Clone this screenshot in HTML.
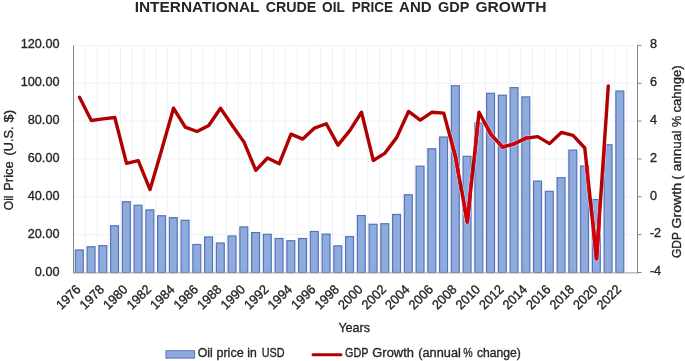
<!DOCTYPE html>
<html lang="en"><head><meta charset="utf-8"><title>International Crude Oil Price and GDP Growth</title>
<style>html,body{margin:0;padding:0;background:#fff;}body{width:685px;height:361px;overflow:hidden;}svg{display:block;filter:blur(0.45px);}text{font-family:"Liberation Sans",sans-serif;fill:#262626;stroke:#262626;stroke-width:0.35px;}</style></head><body>
<svg width="685" height="361" viewBox="0 0 685 361">
<rect x="0" y="0" width="685" height="361" fill="#ffffff"/>
<path d="M85.22 45.40V272.50M96.99 45.40V272.50M108.76 45.40V272.50M120.53 45.40V272.50M132.30 45.40V272.50M144.07 45.40V272.50M155.84 45.40V272.50M167.61 45.40V272.50M179.38 45.40V272.50M191.15 45.40V272.50M202.92 45.40V272.50M214.69 45.40V272.50M226.46 45.40V272.50M238.23 45.40V272.50M250.00 45.40V272.50M261.77 45.40V272.50M273.54 45.40V272.50M285.31 45.40V272.50M297.08 45.40V272.50M308.85 45.40V272.50M320.62 45.40V272.50M332.39 45.40V272.50M344.16 45.40V272.50M355.93 45.40V272.50M367.70 45.40V272.50M379.47 45.40V272.50M391.24 45.40V272.50M403.01 45.40V272.50M414.78 45.40V272.50M426.55 45.40V272.50M438.32 45.40V272.50M450.09 45.40V272.50M461.86 45.40V272.50M473.63 45.40V272.50M485.40 45.40V272.50M497.17 45.40V272.50M508.94 45.40V272.50M520.71 45.40V272.50M532.48 45.40V272.50M544.25 45.40V272.50M556.02 45.40V272.50M567.79 45.40V272.50M579.56 45.40V272.50M591.33 45.40V272.50M603.10 45.40V272.50M614.87 45.40V272.50M626.64 45.40V272.50M73.50 45.40H635.00M73.50 83.25H635.00M73.50 121.10H635.00M73.50 158.95H635.00M73.50 196.80H635.00M73.50 234.65H635.00M73.50 272.50H635.00" stroke="#eff1f9" stroke-width="1" fill="none"/>
<rect x="75.38" y="250.01" width="7.90" height="22.49" fill="#8faadc" stroke="#5574b8" stroke-width="1.2"/>
<rect x="87.12" y="246.79" width="7.90" height="25.71" fill="#8faadc" stroke="#5574b8" stroke-width="1.2"/>
<rect x="98.88" y="245.66" width="7.90" height="26.84" fill="#8faadc" stroke="#5574b8" stroke-width="1.2"/>
<rect x="110.62" y="225.79" width="7.90" height="46.71" fill="#8faadc" stroke="#5574b8" stroke-width="1.2"/>
<rect x="122.38" y="201.75" width="7.90" height="70.75" fill="#8faadc" stroke="#5574b8" stroke-width="1.2"/>
<rect x="134.12" y="205.25" width="7.90" height="67.25" fill="#8faadc" stroke="#5574b8" stroke-width="1.2"/>
<rect x="145.87" y="209.89" width="7.90" height="62.61" fill="#8faadc" stroke="#5574b8" stroke-width="1.2"/>
<rect x="157.62" y="215.76" width="7.90" height="56.74" fill="#8faadc" stroke="#5574b8" stroke-width="1.2"/>
<rect x="169.37" y="217.65" width="7.90" height="54.85" fill="#8faadc" stroke="#5574b8" stroke-width="1.2"/>
<rect x="181.12" y="220.30" width="7.90" height="52.20" fill="#8faadc" stroke="#5574b8" stroke-width="1.2"/>
<rect x="192.87" y="244.52" width="7.90" height="27.98" fill="#8faadc" stroke="#5574b8" stroke-width="1.2"/>
<rect x="204.62" y="236.95" width="7.90" height="35.55" fill="#8faadc" stroke="#5574b8" stroke-width="1.2"/>
<rect x="216.37" y="243.01" width="7.90" height="29.49" fill="#8faadc" stroke="#5574b8" stroke-width="1.2"/>
<rect x="228.12" y="236.01" width="7.90" height="36.49" fill="#8faadc" stroke="#5574b8" stroke-width="1.2"/>
<rect x="239.87" y="226.92" width="7.90" height="45.58" fill="#8faadc" stroke="#5574b8" stroke-width="1.2"/>
<rect x="251.62" y="232.60" width="7.90" height="39.90" fill="#8faadc" stroke="#5574b8" stroke-width="1.2"/>
<rect x="263.38" y="234.30" width="7.90" height="38.20" fill="#8faadc" stroke="#5574b8" stroke-width="1.2"/>
<rect x="275.12" y="238.47" width="7.90" height="34.03" fill="#8faadc" stroke="#5574b8" stroke-width="1.2"/>
<rect x="286.88" y="240.74" width="7.90" height="31.76" fill="#8faadc" stroke="#5574b8" stroke-width="1.2"/>
<rect x="298.62" y="238.47" width="7.90" height="34.03" fill="#8faadc" stroke="#5574b8" stroke-width="1.2"/>
<rect x="310.38" y="231.47" width="7.90" height="41.03" fill="#8faadc" stroke="#5574b8" stroke-width="1.2"/>
<rect x="322.12" y="234.11" width="7.90" height="38.39" fill="#8faadc" stroke="#5574b8" stroke-width="1.2"/>
<rect x="333.88" y="245.85" width="7.90" height="26.65" fill="#8faadc" stroke="#5574b8" stroke-width="1.2"/>
<rect x="345.62" y="236.57" width="7.90" height="35.93" fill="#8faadc" stroke="#5574b8" stroke-width="1.2"/>
<rect x="357.38" y="215.57" width="7.90" height="56.93" fill="#8faadc" stroke="#5574b8" stroke-width="1.2"/>
<rect x="369.12" y="224.27" width="7.90" height="48.23" fill="#8faadc" stroke="#5574b8" stroke-width="1.2"/>
<rect x="380.88" y="223.71" width="7.90" height="48.79" fill="#8faadc" stroke="#5574b8" stroke-width="1.2"/>
<rect x="392.62" y="214.43" width="7.90" height="58.07" fill="#8faadc" stroke="#5574b8" stroke-width="1.2"/>
<rect x="404.38" y="194.75" width="7.90" height="77.75" fill="#8faadc" stroke="#5574b8" stroke-width="1.2"/>
<rect x="416.12" y="166.17" width="7.90" height="106.33" fill="#8faadc" stroke="#5574b8" stroke-width="1.2"/>
<rect x="427.88" y="148.76" width="7.90" height="123.74" fill="#8faadc" stroke="#5574b8" stroke-width="1.2"/>
<rect x="439.62" y="137.03" width="7.90" height="135.47" fill="#8faadc" stroke="#5574b8" stroke-width="1.2"/>
<rect x="451.38" y="85.74" width="7.90" height="186.76" fill="#8faadc" stroke="#5574b8" stroke-width="1.2"/>
<rect x="463.12" y="156.33" width="7.90" height="116.17" fill="#8faadc" stroke="#5574b8" stroke-width="1.2"/>
<rect x="474.88" y="123.02" width="7.90" height="149.48" fill="#8faadc" stroke="#5574b8" stroke-width="1.2"/>
<rect x="486.62" y="93.31" width="7.90" height="179.19" fill="#8faadc" stroke="#5574b8" stroke-width="1.2"/>
<rect x="498.38" y="95.21" width="7.90" height="177.29" fill="#8faadc" stroke="#5574b8" stroke-width="1.2"/>
<rect x="510.13" y="87.63" width="7.90" height="184.87" fill="#8faadc" stroke="#5574b8" stroke-width="1.2"/>
<rect x="521.88" y="96.91" width="7.90" height="175.59" fill="#8faadc" stroke="#5574b8" stroke-width="1.2"/>
<rect x="533.63" y="181.12" width="7.90" height="91.38" fill="#8faadc" stroke="#5574b8" stroke-width="1.2"/>
<rect x="545.38" y="191.34" width="7.90" height="81.16" fill="#8faadc" stroke="#5574b8" stroke-width="1.2"/>
<rect x="557.13" y="177.72" width="7.90" height="94.78" fill="#8faadc" stroke="#5574b8" stroke-width="1.2"/>
<rect x="568.88" y="150.09" width="7.90" height="122.41" fill="#8faadc" stroke="#5574b8" stroke-width="1.2"/>
<rect x="580.63" y="165.98" width="7.90" height="106.52" fill="#8faadc" stroke="#5574b8" stroke-width="1.2"/>
<rect x="592.38" y="199.48" width="7.90" height="73.02" fill="#8faadc" stroke="#5574b8" stroke-width="1.2"/>
<rect x="604.13" y="144.79" width="7.90" height="127.71" fill="#8faadc" stroke="#5574b8" stroke-width="1.2"/>
<rect x="615.88" y="91.04" width="7.90" height="181.46" fill="#8faadc" stroke="#5574b8" stroke-width="1.2"/>
<clipPath id="barclip"><rect x="74.78" y="249.41" width="9.10" height="23.09"/><rect x="86.53" y="246.19" width="9.10" height="26.31"/><rect x="98.28" y="245.06" width="9.10" height="27.44"/><rect x="110.03" y="225.19" width="9.10" height="47.31"/><rect x="121.78" y="201.15" width="9.10" height="71.35"/><rect x="133.52" y="204.65" width="9.10" height="67.85"/><rect x="145.27" y="209.29" width="9.10" height="63.21"/><rect x="157.02" y="215.16" width="9.10" height="57.34"/><rect x="168.77" y="217.05" width="9.10" height="55.45"/><rect x="180.52" y="219.70" width="9.10" height="52.80"/><rect x="192.27" y="243.92" width="9.10" height="28.58"/><rect x="204.02" y="236.35" width="9.10" height="36.15"/><rect x="215.77" y="242.41" width="9.10" height="30.09"/><rect x="227.52" y="235.41" width="9.10" height="37.09"/><rect x="239.27" y="226.32" width="9.10" height="46.18"/><rect x="251.02" y="232.00" width="9.10" height="40.50"/><rect x="262.77" y="233.70" width="9.10" height="38.80"/><rect x="274.52" y="237.87" width="9.10" height="34.63"/><rect x="286.27" y="240.14" width="9.10" height="32.36"/><rect x="298.02" y="237.87" width="9.10" height="34.63"/><rect x="309.77" y="230.87" width="9.10" height="41.63"/><rect x="321.52" y="233.51" width="9.10" height="38.99"/><rect x="333.27" y="245.25" width="9.10" height="27.25"/><rect x="345.02" y="235.97" width="9.10" height="36.53"/><rect x="356.77" y="214.97" width="9.10" height="57.53"/><rect x="368.52" y="223.67" width="9.10" height="48.83"/><rect x="380.27" y="223.11" width="9.10" height="49.39"/><rect x="392.02" y="213.83" width="9.10" height="58.67"/><rect x="403.77" y="194.15" width="9.10" height="78.35"/><rect x="415.52" y="165.57" width="9.10" height="106.93"/><rect x="427.27" y="148.16" width="9.10" height="124.34"/><rect x="439.02" y="136.43" width="9.10" height="136.07"/><rect x="450.77" y="85.14" width="9.10" height="187.36"/><rect x="462.52" y="155.73" width="9.10" height="116.77"/><rect x="474.27" y="122.42" width="9.10" height="150.08"/><rect x="486.02" y="92.71" width="9.10" height="179.79"/><rect x="497.77" y="94.61" width="9.10" height="177.89"/><rect x="509.53" y="87.03" width="9.10" height="185.47"/><rect x="521.28" y="96.31" width="9.10" height="176.19"/><rect x="533.03" y="180.52" width="9.10" height="91.98"/><rect x="544.78" y="190.74" width="9.10" height="81.76"/><rect x="556.53" y="177.12" width="9.10" height="95.38"/><rect x="568.28" y="149.49" width="9.10" height="123.01"/><rect x="580.03" y="165.38" width="9.10" height="107.12"/><rect x="591.78" y="198.88" width="9.10" height="73.62"/><rect x="603.53" y="144.19" width="9.10" height="128.31"/><rect x="615.28" y="90.44" width="9.10" height="182.06"/></clipPath>
<path d="M73.50 272.90H637.50" stroke="#a2a2a2" stroke-width="1" fill="none"/>
<path d="M73.50 45.40V273.40M637.50 45.40V273.40" stroke="#848484" stroke-width="1" fill="none"/>
<path d="M637.50 45.40h4M637.50 83.25h4M637.50 121.10h4M637.50 158.95h4M637.50 196.80h4M637.50 234.65h4M637.50 272.50h4" stroke="#848484" stroke-width="1" fill="none"/>
<polyline points="79.53,97.25 91.28,120.53 103.03,118.83 114.78,117.50 126.53,163.30 138.27,160.65 150.02,189.61 161.77,149.49 173.52,108.23 185.27,127.16 197.02,131.51 208.77,125.45 220.52,108.23 232.27,125.45 244.02,142.11 255.77,170.31 267.52,158.00 279.27,163.68 291.02,134.16 302.77,139.08 314.52,128.10 326.27,123.75 338.02,145.13 349.77,130.56 361.52,112.21 373.27,160.46 385.02,153.08 396.77,137.38 408.52,111.45 420.27,120.15 432.02,112.21 443.77,113.15 455.52,157.06 467.27,221.97 479.02,112.21 490.77,134.16 502.52,147.03 514.28,143.81 526.03,138.13 537.78,136.62 549.53,143.62 561.28,132.46 573.03,135.29 584.78,147.97 596.53,258.87 608.28,85.90" fill="none" stroke="#aecbf3" stroke-width="5.2" stroke-linejoin="round" stroke-linecap="round" clip-path="url(#barclip)"/>
<polyline points="79.53,97.25 91.28,120.53 103.03,118.83 114.78,117.50 126.53,163.30 138.27,160.65 150.02,189.61 161.77,149.49 173.52,108.23 185.27,127.16 197.02,131.51 208.77,125.45 220.52,108.23 232.27,125.45 244.02,142.11 255.77,170.31 267.52,158.00 279.27,163.68 291.02,134.16 302.77,139.08 314.52,128.10 326.27,123.75 338.02,145.13 349.77,130.56 361.52,112.21 373.27,160.46 385.02,153.08 396.77,137.38 408.52,111.45 420.27,120.15 432.02,112.21 443.77,113.15 455.52,157.06 467.27,221.97 479.02,112.21 490.77,134.16 502.52,147.03 514.28,143.81 526.03,138.13 537.78,136.62 549.53,143.62 561.28,132.46 573.03,135.29 584.78,147.97 596.53,258.87 608.28,85.90" fill="none" stroke="#b00000" stroke-width="3.4" stroke-linejoin="round" stroke-linecap="round"/>
<polyline points="79.53,97.25 91.28,120.53 103.03,118.83 114.78,117.50 126.53,163.30 138.27,160.65 150.02,189.61 161.77,149.49 173.52,108.23 185.27,127.16 197.02,131.51 208.77,125.45 220.52,108.23 232.27,125.45 244.02,142.11 255.77,170.31 267.52,158.00 279.27,163.68 291.02,134.16 302.77,139.08 314.52,128.10 326.27,123.75 338.02,145.13 349.77,130.56 361.52,112.21 373.27,160.46 385.02,153.08 396.77,137.38 408.52,111.45 420.27,120.15 432.02,112.21 443.77,113.15 455.52,157.06 467.27,221.97 479.02,112.21 490.77,134.16 502.52,147.03 514.28,143.81 526.03,138.13 537.78,136.62 549.53,143.62 561.28,132.46 573.03,135.29 584.78,147.97 596.53,258.87 608.28,85.90" fill="none" stroke="#d60008" stroke-width="3.4" stroke-linejoin="round" stroke-linecap="round" clip-path="url(#barclip)"/>
<text transform="translate(59.5 48.40) scale(0.962 1)" font-size="13.20" text-anchor="end">120.00</text>
<text transform="translate(59.5 86.25) scale(0.962 1)" font-size="13.20" text-anchor="end">100.00</text>
<text transform="translate(59.5 124.10) scale(0.962 1)" font-size="13.20" text-anchor="end">80.00</text>
<text transform="translate(59.5 161.95) scale(0.962 1)" font-size="13.20" text-anchor="end">60.00</text>
<text transform="translate(59.5 199.80) scale(0.962 1)" font-size="13.20" text-anchor="end">40.00</text>
<text transform="translate(59.5 237.65) scale(0.962 1)" font-size="13.20" text-anchor="end">20.00</text>
<text transform="translate(59.5 275.50) scale(0.962 1)" font-size="13.20" text-anchor="end">0.00</text>
<text transform="translate(649.9 48.10) scale(0.962 1)" font-size="13.20">8</text>
<text transform="translate(649.9 85.95) scale(0.962 1)" font-size="13.20">6</text>
<text transform="translate(649.9 123.80) scale(0.962 1)" font-size="13.20">4</text>
<text transform="translate(649.9 161.65) scale(0.962 1)" font-size="13.20">2</text>
<text transform="translate(649.9 199.50) scale(0.962 1)" font-size="13.20">0</text>
<text transform="translate(649.9 237.35) scale(0.962 1)" font-size="13.20">-2</text>
<text transform="translate(649.9 275.20) scale(0.962 1)" font-size="13.20">-4</text>
<text transform="translate(81.42 290.30) rotate(-45) scale(0.962 1)" font-size="13.20" text-anchor="end">1976</text>
<text transform="translate(104.92 290.30) rotate(-45) scale(0.962 1)" font-size="13.20" text-anchor="end">1978</text>
<text transform="translate(128.43 290.30) rotate(-45) scale(0.962 1)" font-size="13.20" text-anchor="end">1980</text>
<text transform="translate(151.92 290.30) rotate(-45) scale(0.962 1)" font-size="13.20" text-anchor="end">1982</text>
<text transform="translate(175.42 290.30) rotate(-45) scale(0.962 1)" font-size="13.20" text-anchor="end">1984</text>
<text transform="translate(198.92 290.30) rotate(-45) scale(0.962 1)" font-size="13.20" text-anchor="end">1986</text>
<text transform="translate(222.42 290.30) rotate(-45) scale(0.962 1)" font-size="13.20" text-anchor="end">1988</text>
<text transform="translate(245.92 290.30) rotate(-45) scale(0.962 1)" font-size="13.20" text-anchor="end">1990</text>
<text transform="translate(269.43 290.30) rotate(-45) scale(0.962 1)" font-size="13.20" text-anchor="end">1992</text>
<text transform="translate(292.93 290.30) rotate(-45) scale(0.962 1)" font-size="13.20" text-anchor="end">1994</text>
<text transform="translate(316.43 290.30) rotate(-45) scale(0.962 1)" font-size="13.20" text-anchor="end">1996</text>
<text transform="translate(339.93 290.30) rotate(-45) scale(0.962 1)" font-size="13.20" text-anchor="end">1998</text>
<text transform="translate(363.43 290.30) rotate(-45) scale(0.962 1)" font-size="13.20" text-anchor="end">2000</text>
<text transform="translate(386.93 290.30) rotate(-45) scale(0.962 1)" font-size="13.20" text-anchor="end">2002</text>
<text transform="translate(410.43 290.30) rotate(-45) scale(0.962 1)" font-size="13.20" text-anchor="end">2004</text>
<text transform="translate(433.93 290.30) rotate(-45) scale(0.962 1)" font-size="13.20" text-anchor="end">2006</text>
<text transform="translate(457.43 290.30) rotate(-45) scale(0.962 1)" font-size="13.20" text-anchor="end">2008</text>
<text transform="translate(480.93 290.30) rotate(-45) scale(0.962 1)" font-size="13.20" text-anchor="end">2010</text>
<text transform="translate(504.43 290.30) rotate(-45) scale(0.962 1)" font-size="13.20" text-anchor="end">2012</text>
<text transform="translate(527.93 290.30) rotate(-45) scale(0.962 1)" font-size="13.20" text-anchor="end">2014</text>
<text transform="translate(551.43 290.30) rotate(-45) scale(0.962 1)" font-size="13.20" text-anchor="end">2016</text>
<text transform="translate(574.93 290.30) rotate(-45) scale(0.962 1)" font-size="13.20" text-anchor="end">2018</text>
<text transform="translate(598.43 290.30) rotate(-45) scale(0.962 1)" font-size="13.20" text-anchor="end">2020</text>
<text transform="translate(621.93 290.30) rotate(-45) scale(0.962 1)" font-size="13.20" text-anchor="end">2022</text>
<text y="12.10" font-size="15.10" font-weight="bold" style="stroke:none"><tspan x="134.70" textLength="124.50" lengthAdjust="spacingAndGlyphs">INTERNATIONAL</tspan> <tspan x="265.70" textLength="50.70" lengthAdjust="spacingAndGlyphs">CRUDE</tspan> <tspan x="322.10" textLength="22.40" lengthAdjust="spacingAndGlyphs">OIL</tspan> <tspan x="351.80" textLength="41.30" lengthAdjust="spacingAndGlyphs">PRICE</tspan> <tspan x="399.10" textLength="32.50" lengthAdjust="spacingAndGlyphs">AND</tspan> <tspan x="438.10" textLength="31.00" lengthAdjust="spacingAndGlyphs">GDP</tspan> <tspan x="475.40" textLength="71.10" lengthAdjust="spacingAndGlyphs">GROWTH</tspan></text>
<text y="0.00" font-size="13.20" transform="translate(12.8 0) rotate(-90)"><tspan x="-210.20" textLength="14.70" lengthAdjust="spacingAndGlyphs">Oil</tspan> <tspan x="-190.70" textLength="29.20" lengthAdjust="spacingAndGlyphs">Price</tspan> <tspan x="-155.50" textLength="29.00" lengthAdjust="spacingAndGlyphs">(U.S.</tspan> <tspan x="-122.40" textLength="12.70" lengthAdjust="spacingAndGlyphs">$)</tspan></text>
<text y="0.00" font-size="13.20" transform="translate(681 0) rotate(-90)"><tspan x="-258.10" textLength="25.80" lengthAdjust="spacingAndGlyphs">GDP</tspan> <tspan x="-228.50" textLength="45.60" lengthAdjust="spacingAndGlyphs">Growth</tspan> <tspan x="-179.50" textLength="3.90" lengthAdjust="spacingAndGlyphs">(</tspan> <tspan x="-171.30" textLength="40.80" lengthAdjust="spacingAndGlyphs">annual</tspan> <tspan x="-127.00" textLength="11.30" lengthAdjust="spacingAndGlyphs">%</tspan> <tspan x="-112.40" textLength="47.10" lengthAdjust="spacingAndGlyphs">cahnge)</tspan></text>
<text y="332.30" font-size="13.20"><tspan x="338.40" textLength="31.70" lengthAdjust="spacingAndGlyphs">Years</tspan></text>
<rect x="166" y="350.7" width="28.6" height="7.4" fill="#8faadc" stroke="#5574b8" stroke-width="1"/>
<text y="356.60" font-size="13.20"><tspan x="197.70" textLength="15.00" lengthAdjust="spacingAndGlyphs">Oil</tspan> <tspan x="216.40" textLength="27.30" lengthAdjust="spacingAndGlyphs">price</tspan> <tspan x="247.30" textLength="9.50" lengthAdjust="spacingAndGlyphs">in</tspan> <tspan x="261.70" textLength="22.90" lengthAdjust="spacingAndGlyphs">USD</tspan></text>
<path d="M313 354.7H341" stroke="#b00000" stroke-width="3" stroke-linecap="round" fill="none"/>
<text y="356.50" font-size="13.20"><tspan x="345.00" textLength="23.20" lengthAdjust="spacingAndGlyphs">GDP</tspan> <tspan x="372.30" textLength="41.60" lengthAdjust="spacingAndGlyphs">Growth</tspan> <tspan x="418.30" textLength="42.50" lengthAdjust="spacingAndGlyphs">(annual</tspan> <tspan x="463.30" textLength="9.40" lengthAdjust="spacingAndGlyphs">%</tspan> <tspan x="476.90" textLength="44.00" lengthAdjust="spacingAndGlyphs">change)</tspan></text>
</svg></body></html>
